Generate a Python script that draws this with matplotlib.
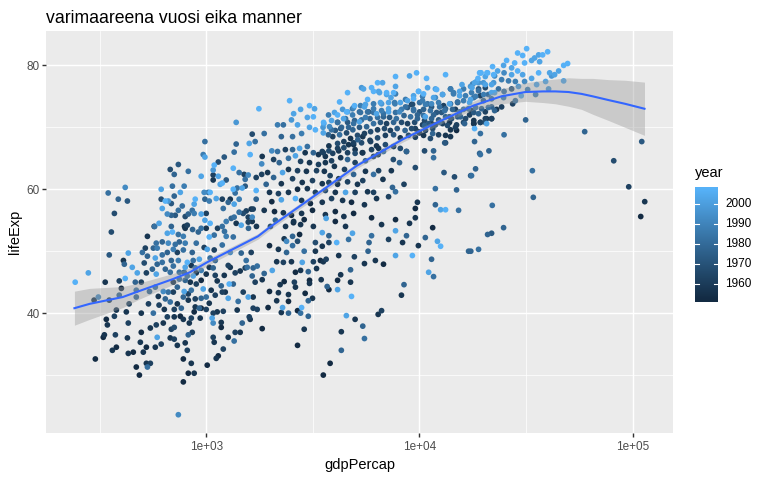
import numpy as np
import matplotlib
matplotlib.use("Agg")
import matplotlib.pyplot as plt
from matplotlib.colors import ListedColormap, Normalize
from matplotlib.ticker import FixedLocator, NullFormatter, FixedFormatter
from matplotlib.transforms import blended_transform_factory

plt.rcParams['font.family'] = ['Liberation Sans', 'DejaVu Sans']

# ---------------- data ----------------
# region A (low income, upper part)
gdp_a = [1766,1382,986,1643,1591,1696,1382,968,986,1215,
         1352,1607,740,678,708,824,947,1090,1139,1078,
         1078,1078,1139,1339,1427,1506,1574,1715,417,347,
         387,427,371,615,694,788,708,756,615,643,
         664,686,622,772,657,686,716,740,601,686,
         570,797,815,797,878,888,860,878,824,947,
         1000,978,1022,1043,986,1033,1114,1202,1189,1296,
         1339,1367,1427,1352,1268,1163,1189,1241,1397,1475,
         1523,1523,1715,1715,1625,1660,1427,1491,1540,1310,
         1352,1241,986,1043,1189,1382,1459,1574,1643,1643,
         1574,1000,947]
life_a = [73.0,70.8,67.7,68.9,67.4,67.7,67.3,65.6,65.2,65.2,
          66.0,65.6,64.0,63.2,62.4,62.9,62.1,63.9,64.4,63.1,
          62.3,61.5,62.1,63.4,62.7,62.4,62.3,61.9,60.3,59.4,
          58.4,58.1,56.1,60.0,60.5,60.5,58.9,59.5,58.4,58.1,
          58.1,57.7,56.9,57.3,56.0,55.8,55.8,56.6,54.5,54.0,
          54.0,55.6,54.2,53.7,57.6,58.4,56.6,56.1,56.0,56.0,
          56.1,59.5,59.5,59.5,58.4,58.1,58.5,56.9,58.4,58.4,
          60.0,59.4,58.4,57.6,57.9,60.8,61.0,61.5,60.2,60.2,
          60.5,61.6,59.8,58.4,56.8,56.8,56.3,56.1,56.5,55.3,
          55.5,54.8,55.0,54.5,54.0,54.5,54.2,54.7,54.8,55.5,
          55.5,53.7,53.7]
year_a = [2007,1997,1982,1967,2002,1982,1977,1987,2002,1972,
          1982,2007,1972,1967,1977,1982,2002,2007,1967,1997,
          1962,1957,2002,2007,1982,1962,1992,1962,1992,1982,
          1977,1972,1967,2002,1982,1987,1977,2002,1967,2007,
          1997,1972,2002,1982,1992,1977,1972,1982,2002,1977,
          1962,1967,1962,1957,2002,2007,1982,1987,1977,2002,
          1962,1992,1982,2007,1977,1987,2002,1982,1962,1957,
          2007,1982,1987,2002,1977,2002,2007,1972,1982,2002,
          1972,1982,2007,1977,1957,1962,1982,1967,1962,1977,
          1982,1987,2002,2007,1982,1957,2002,1962,1957,1992,
          1962,1957,1982]

# region B (low income, lower part)
gdp_b = [359,351,280,243,336,298,312,351,391,409,413,431,450,417,400,
         391,379,340,344,371,329,333,375,379,363,302,427,431,422,435,
         470,470,465,475,496,496,496,491,524,507,455,431,470,486,530,
         524,547,577,615,589,547,583,565,536,542,524,512,530,502,518,
         530,559,583,577,596,601,636,657,629,686,708,678,708,732,781,
         824,878,781,851,815,797,824,860,740,1011,1078,1090,1139,1114,1202,
         1268,1352,1475,1367,1443,1176,1176,1078,1066,1078,1126,1202,1268,1397,1591,
         1607,1660,1734,1412,1574,1660,1491,1282,1228,1339,1367,1443,1557,1643,1696,
         1215,1268,1078,1033,1043,1102,1090,1189,1241,1339,1296,1459,1625,1540,1011,
         1033,1090,918,898,978,928,860,851,888,898,947,898,968,947,1000,
         1055,1102,1033,947,888,888,824,781,788,824,851,842,797,748,701,
         732,701,664,629,643,678,732,708,764,756,781,708,851,833,878,
         937,928,1000,678,643,701,740,686,622,589,577,622,657,701,732,
         781,797,748,716,664,622,583,565,589,657,694,740,781,797,748,
         788,815,869,815,869,947,1000,1102,1126,1176,1189,1296,1523,1734,1660]
life_b = [53.1,49.4,46.5,45.0,45.0,42.1,42.6,42.1,45.2,48.5,47.9,49.7,47.4,45.6,44.0,
          42.9,40.5,39.0,38.1,39.5,36.1,36.5,36.5,34.5,34.0,32.6,36.0,38.4,40.2,41.5,
          42.6,43.7,45.0,46.5,45.0,40.0,36.9,35.3,34.5,33.7,33.7,33.5,31.3,30.0,31.3,
          31.9,31.9,34.5,35.0,36.1,37.6,38.1,40.0,41.5,43.5,46.5,48.1,49.2,49.8,50.5,
          52.4,47.1,46.3,44.2,42.7,41.3,40.6,39.4,38.4,37.4,37.7,36.0,35.8,34.8,32.6,
          30.3,30.3,28.9,31.9,34.0,35.2,36.5,36.9,23.6,31.6,36.1,35.3,33.1,32.7,34.2,
          36.1,35.5,38.4,36.9,36.9,38.5,37.7,38.4,39.2,40.0,40.2,40.3,42.4,40.5,39.4,
          39.0,40.8,40.6,41.9,42.6,42.6,43.4,44.7,43.4,44.7,46.5,46.8,47.4,46.0,45.0,
          46.1,47.7,47.3,47.4,48.9,48.5,50.2,51.0,52.4,52.3,49.8,49.7,49.8,48.5,50.3,
          52.3,52.6,53.1,51.3,50.6,48.7,49.8,47.7,47.3,46.5,45.3,44.7,43.9,42.4,42.6,
          43.7,42.9,41.6,40.8,41.0,42.3,42.1,42.6,43.5,43.1,43.7,45.0,45.3,45.5,45.0,
          44.2,43.4,43.4,43.5,42.3,41.8,41.5,40.6,40.8,39.5,39.0,39.4,39.2,38.4,40.2,
          39.2,40.8,40.6,46.6,47.1,47.6,48.5,48.5,48.2,47.9,48.9,49.4,49.8,50.3,49.8,
          50.2,51.3,51.5,51.1,51.3,51.5,51.3,50.5,50.5,52.9,53.1,52.7,52.4,47.4,46.6,
          46.6,46.0,46.0,48.2,48.5,46.9,46.3,46.1,45.2,44.4,43.4,47.4,47.3,47.6,47.3]
year_b = [1967,1972,2002,2007,1957,1957,1992,1962,1962,1957,1977,2002,2002,2007,1952,
          1977,1957,1952,1957,1962,1952,1957,1962,1952,1957,1952,1957,1962,1957,1962,
          1977,1982,1977,2002,1962,1957,1952,1957,1952,1957,1952,1957,1952,1952,1982,
          1957,1962,1957,1962,2002,1957,1962,1982,1962,1977,1962,1967,1977,1982,1962,
          1957,1977,2002,1982,1957,1962,1957,1962,1957,1962,1967,1957,1962,1957,1952,
          1952,1957,1952,1957,1962,1957,1977,1962,1992,1952,1962,1957,1952,1957,1962,
          1957,1982,1977,1962,1957,1957,1952,1992,2002,1962,1957,1962,2002,1957,1962,
          1957,1962,1962,1982,2002,1957,1962,2007,1957,1977,1962,1957,1982,1977,1962,
          1957,1962,1977,1957,1982,1977,1962,1982,1987,1982,1992,1977,1962,1982,2002,
          2007,1982,1977,1982,1962,2002,1977,1957,1982,1957,1952,1962,2002,1977,1982,
          1957,1962,1957,1952,1957,1962,1957,1977,2002,1962,1982,1957,1977,1982,1957,
          1977,1962,1982,1992,1977,1982,1957,1962,1977,1952,1957,1957,1962,1957,1952,
          1957,1977,1962,1982,1977,1982,1987,1977,1982,1977,2002,1982,1977,1987,1962,
          1982,1987,1977,1982,1992,1977,1982,1977,1987,2002,2007,1982,1987,2002,1982,
          1977,1982,2002,2007,1982,1987,1957,1962,1957,1977,1962,1957,1962,1982,1977]

# region C (middle income)
gdp_c = [9690,8980,7720,10790,13250,19140,15820,17350,18120,6360,
         6710,5960,5350,4600,6430,7010,7720,7720,7350,6560,
         5710,5520,4960,4220,2460,2770,3050,3220,2570,2510,
         2980,3180,2680,2160,2300,1870,2250,2540,2800,3050,
         3250,3560,3530,3870,4130,4360,4600,4850,5230,4500,
         4130,3870,4270,4650,4910,5230,5580,5710,6090,6290,
         6780,7160,7670,8060,8600,8790,9380,9900,10450,10330,
         10910,11640,12030,12830,13980,14440,15420,16440,17540,18920,
         18800,13830,15090,17170,18320,16090,14740,13250,12430,11390,
         10450,9380,9180,9780,10650,11640,12690,13830,15580,17170,
         17970,16270,14740,13530,12430,11390,10560,9560,10000,11530,
         13980,13250,18120,19140,10560,11640,11640,9560,13030,14590,
         17370,14920,11870,11870,12560,13250,15250,9780,9560,9560,
         11530,8980,7720,8460,7470,7720,8690,6780,6400,6290,
         5900,5420,5140,4910,4650,4420,4130,3760,3540,3360,
         3180,2980,2740,2540,2350,2160,2030,1830,1820,2070,
         2200,2430,2620,2910,2770,3050,3360,3620,3870,4270,
         4600,4990,5580,6090,5390,4990,3990,4450,4910,5580,
         6090,5120,4600,4180,3810,3580,3290,2950,2680,2430,
         2280,2070,1940,1820,1910,2250,2540,2820,3150,3500,
         3760,4130,4500,4030,3620,3250,2980,2680,2430,2180,
         1980,2030,2250,2620,2800,3080,3500,3870,4360,4800,
         5520,4990,5710,6090,6290,7160,5420,6740,6430,7380,
         7540,8060,4910,4420,4030,3620,3150,2800,2510,2300,
         2090,1870,2110,2570,2880,3180,3650,4030,4500,5960,
         6640]
life_c = [78.8,78.3,78.2,77.9,78.5,78.8,76.9,76.6,77.2,77.2,
          77.2,76.4,76.4,75.6,75.8,75.6,76.6,75.4,74.8,74.0,
          74.5,73.3,73.5,74.1,74.3,72.9,73.5,73.0,72.2,71.2,
          71.6,71.7,70.4,70.4,70.4,69.0,68.5,68.5,69.0,70.0,
          69.6,70.6,70.0,71.1,72.0,72.9,72.5,73.0,72.5,71.4,
          70.8,69.6,69.8,70.0,70.6,70.9,71.6,72.5,73.0,72.2,
          72.2,73.0,73.8,72.5,73.3,74.3,74.6,75.8,75.4,74.3,
          73.8,74.8,76.1,75.3,76.2,75.4,75.8,75.1,75.6,75.9,
          77.9,73.8,74.1,74.0,73.2,72.9,72.9,73.0,73.3,73.3,
          72.9,72.9,73.7,72.0,71.7,72.0,72.4,71.7,71.7,72.0,
          70.6,70.6,70.0,70.3,70.8,70.6,70.3,69.8,69.1,69.0,
          68.5,67.5,67.7,65.8,66.2,66.2,65.1,63.5,62.7,62.0,
          62.2,59.9,60.1,57.5,56.7,56.7,56.6,57.9,56.9,55.4,
          53.8,54.5,55.1,60.8,60.3,59.6,66.1,66.1,65.6,67.0,
          67.7,68.5,68.0,67.5,67.2,66.7,66.6,66.2,65.9,65.6,
          65.9,66.9,66.6,66.4,66.4,66.1,66.2,65.3,64.1,64.8,
          64.3,65.0,65.4,65.9,64.5,64.3,64.0,64.3,64.6,65.1,
          64.8,64.3,64.6,65.3,65.9,66.4,63.7,63.2,62.4,62.9,
          62.4,60.8,61.2,61.7,62.2,62.9,63.0,62.9,63.0,63.2,
          62.7,61.9,62.7,62.4,60.8,60.9,61.7,61.1,61.4,60.9,
          61.1,60.8,59.5,59.5,59.8,59.5,60.1,60.0,59.5,59.3,
          59.5,58.0,58.3,58.5,58.2,57.7,57.9,58.5,58.2,57.9,
          57.5,59.5,59.6,59.5,58.5,58.8,61.4,61.6,63.0,63.0,
          64.8,64.3,56.1,55.6,56.4,55.9,56.6,56.1,55.8,56.2,
          56.4,56.6,55.0,54.8,55.1,54.0,55.3,54.8,54.0,55.4,
          54.3]
year_c = [2007,2002,2007,2007,2007,2007,2002,1997,2002,2007,
          2002,2007,1997,2007,2002,2007,2002,1987,2002,2002,
          2007,2002,2007,2007,2007,2002,2007,2002,2002,1997,
          2002,2007,2002,1987,1982,1982,1977,1982,1987,2002,
          2007,2002,1997,2002,2007,1997,2002,1987,1982,1982,
          1977,1982,1972,1977,1982,2002,1987,1982,1987,2002,
          1982,2002,1987,1992,1982,2002,2007,2002,2007,1987,
          1982,2002,2007,2002,1987,1987,2002,1987,1987,1982,
          2007,2002,1982,2002,1982,1982,1962,1977,1982,1972,
          1977,1982,1962,1977,2002,1977,1972,1967,1977,1962,
          1957,1977,1962,1967,1977,1957,1977,1962,1957,1977,
          1957,1967,1977,1977,1967,1977,1982,1967,1972,1967,
          1972,1977,1982,1977,2002,2007,1982,1957,1952,1957,
          1952,1957,1952,1962,1977,1982,1977,1982,1962,1957,
          1962,1957,1977,1962,1957,1967,1962,1967,1962,1957,
          1977,1982,2002,1977,1962,1982,1992,1957,1992,1962,
          1977,1982,2002,1957,1962,1957,1962,1957,1962,1957,
          1977,1962,1977,1962,1957,1957,1957,1962,1977,1957,
          1982,1957,1962,1957,1962,1957,1962,1957,1962,1957,
          2002,1977,1957,1962,1977,1957,1962,1957,1962,1957,
          1962,1957,2002,1957,1967,1962,1957,1952,1957,1962,
          1957,1952,2002,2007,1957,1952,1957,1962,1957,1952,
          1957,1962,1957,1962,1957,1962,1962,1957,1962,1957,
          1967,1977,1952,1957,1952,1957,1952,1957,1952,1957,
          1952,1957,1977,1957,1952,1957,2002,1952,1957,1952,
          1957]

# region D (middle income, low life expectancy)
gdp_d = [1980,2320,2540,2740,2380,2680,2540,2180,2380,2880,
         3250,3500,3760,3500,3760,4090,4650,4850,5960,5800,
         5740,4180,4950,6210,6780,5520,4750,4270,4130,4750,
         4130,4800,3760,3690,3460,3540,3650,3430,3290,3180,
         3250,3010,2770,2820,2620,2510,2300,2140,2040,1870,
         1830,1980,2180,2320,2220,2590,2620,3050,3050,2910,
         3150,3010,2430,2430,2140,1950,2280,2250,2430,2680,
         2800,2770,3010,1830,2880,2680,4300,4300,3810,3540,
         4540,4990,5420,5520,6400,6640,8230,8460,7720,9260,
         8330,7160,8690,7720,9880,10650,12140,12560,11390,11040,
         11640,16990,18920,20860,21780,17400]
life_d = [50.9,52.0,52.4,52.7,51.6,51.6,50.9,50.3,49.8,50.0,
          51.4,50.8,51.4,53.0,52.5,51.4,51.9,52.9,52.5,51.4,
          50.0,49.3,49.1,48.5,47.9,48.0,47.0,46.2,45.3,45.0,
          43.8,42.7,43.8,44.3,45.4,48.3,48.7,48.5,47.2,48.3,
          50.0,46.7,46.9,48.2,46.6,48.3,48.2,48.3,46.9,46.4,
          45.4,43.5,43.3,45.1,44.6,45.0,44.2,45.3,44.8,43.2,
          42.4,42.0,43.0,41.9,42.0,40.9,40.9,40.1,40.0,40.4,
          40.9,40.0,39.5,37.5,37.4,34.8,37.0,34.0,31.9,30.0,
          39.6,39.0,37.9,35.9,39.8,40.4,42.9,44.6,49.3,49.3,
          51.4,51.9,52.5,53.3,50.9,52.2,51.6,50.8,48.7,46.6,
          45.9,50.0,50.3,52.7,52.9,50.0]
year_d = [1952,1957,1977,1952,1992,1967,1982,1957,1977,1982,
          1967,1957,1962,2002,1977,2007,1982,2002,1982,1977,
          1977,1957,1962,1957,1952,1957,1977,1957,1952,1957,
          2002,2007,1952,1977,1957,1957,1962,1952,1957,1962,
          1957,1977,1957,2002,1952,1957,1962,1957,2002,1977,
          1957,1952,1957,1952,1957,1962,1957,1952,1957,1952,
          1957,1977,1957,1952,1957,1952,2002,1957,1977,1952,
          2007,1982,1977,1952,1957,1952,1957,1977,1952,1952,
          2002,1957,1977,1982,1957,1962,1957,1977,2002,2007,
          1957,1962,1977,2002,1957,1977,2002,2007,1977,2002,
          1982,1977,1982,1977,1972,1977]

# region E (high income)
gdp_e = [31800,28850,30450,39890,37790,36190,34650,33550,36590,49500,
         47420,44920,43010,40760,41650,36190,47420,39030,40300,35420,
         35040,32150,31100,33550,30450,28850,31100,27940,25610,24790,
         27040,22010,23240,20860,19300,20350,22500,24920,27040,24270,
         26150,28150,29110,27040,24920,23460,21780,19950,18510,17750,
         18920,20350,22500,21020,19300,17970,19950,21780,24790,28150,
         27350,29990,24270,22990,21780,20350,18920,17490,21780,20350,
         19300,17970,20640,18120,19300,24920,31460,21160,19300,18320,
         17540,33830,34170,21940,24790,59520,110200,81440,95760,113800,
         109000]
life_e = [82.7,82.0,81.6,82.2,81.7,81.7,81.2,80.8,80.6,80.3,
          80.0,79.1,78.5,78.8,78.3,78.8,77.5,77.4,76.2,76.9,
          75.3,76.1,77.4,77.9,78.5,79.1,80.4,80.4,80.8,80.0,
          79.6,79.8,79.1,78.8,78.8,78.2,78.3,78.8,78.5,77.7,
          77.5,77.4,76.6,76.2,75.8,76.2,76.9,77.2,77.4,77.0,
          76.2,76.4,75.6,75.3,75.1,74.8,74.3,74.6,74.8,74.3,
          73.8,75.1,73.3,72.9,73.3,72.5,72.2,72.7,71.4,71.4,
          70.8,70.6,70.6,69.8,69.0,68.8,71.2,66.2,65.6,63.3,
          62.2,63.0,58.7,57.4,53.8,69.3,67.7,64.6,60.4,58.0,
          55.6]
year_e = [2007,2007,2007,2007,2007,2002,2002,2002,2002,2007,
          2007,2002,2002,2002,1997,2007,2002,2002,1997,2002,
          1987,1987,1992,2002,2002,2007,2007,2007,2007,2002,
          2002,2007,2002,2007,2002,2002,1992,1992,2002,1987,
          1987,1987,1997,1972,1982,1982,2002,1997,2002,1987,
          1972,1967,2002,1982,1962,1982,1977,1982,1987,1982,
          1962,2002,1962,1957,1977,1962,1977,1957,1957,1962,
          1957,1952,2002,2007,1982,1982,1977,1977,1982,1977,
          1982,1982,1977,1982,1977,1977,1972,1967,1962,1957,
          1952]

# region F (dense band around the fitted curve, middle/upper income)
gdp_f = [5465,6090,6495,7010,7560,7640,7160,6640,6090,5580,
         5290,4910,4550,3995,3745,3550,3785,4130,4405,4855,
         5290,5770,6090,6640,7160,7720,8240,8790,9280,10010,
         10670,11390,12290,12970,13980,15090,16090,17350,18320,19980,
         21780,14440,15420,16090,17620,18920,20350,22260,20720,19430,
         22260,13980,12830,11870,10910,9900,9380,10330,11870,8600,
         8130,9380,10010,10450,11250,12030,13130,14280,15420,16960,
         17970,19550,21020,22500,17970,19300,20640,21780,20350,
         16440,15090,14130,13250,12290,11390,10560,9780,9080,8460,
         7790,7240,6780,6360,5860,5350,4960,4600,4310,4030,
         3740,3540,3920,4220,4550,4870,5230,5650,6090,6560,
         7010,7560,8240,8790,9490,10330,11040,11870,12830,13830,
         14920,16090,13980,14920,13250,11530,10670,9880,9180,8560,
         7860,7300,6850,6360,5900,5520,5120,4750,4420,4130,
         3760,3500,4910,5350,5860,6360,6920,7560,8130,8880,
         9560,10450,11250,12290,8130,8690,7560,6920,6430,5960,
         5420,4990,4600,4180,3920,3620,13130,
         573,791,863,1130,1218,1578,1720,2000,2355,2565,2770]
life_f = [76.2,75.8,75.6,75.3,75.6,74.0,74.0,73.8,73.8,73.7,
          73.5,73.2,72.5,72.4,72.0,70.8,70.1,70.8,71.4,72.0,
          72.4,72.5,72.4,72.7,72.5,72.4,72.9,73.2,73.7,74.0,
          73.7,73.8,74.0,73.5,73.8,74.0,74.3,74.5,75.0,75.3,
          75.6,75.6,75.1,76.2,76.4,77.2,76.9,77.2,78.8,78.8,
          78.5,76.2,75.3,76.2,76.4,75.8,75.1,75.0,74.8,74.5,
          74.0,72.7,72.5,71.9,72.7,72.4,72.7,72.9,72.5,73.0,
          72.4,73.0,73.2,72.7,71.1,70.8,71.4,71.4,70.8,
          71.4,71.7,71.4,71.7,71.2,71.4,71.1,71.4,71.7,71.9,
          71.4,71.6,71.7,71.6,71.4,71.2,71.1,70.8,70.0,69.5,
          68.8,69.1,68.5,68.8,69.1,69.6,70.0,70.1,70.6,70.8,
          70.6,70.8,70.8,70.6,70.8,70.4,70.6,70.4,70.6,70.8,
          70.4,70.8,69.6,69.5,68.7,69.8,69.5,69.3,69.8,69.5,
          69.8,69.5,69.8,69.6,69.3,69.0,68.7,68.2,67.7,67.4,
          67.0,66.1,67.2,67.5,67.9,68.3,68.7,68.8,68.3,68.7,
          68.4,68.7,68.2,68.8,66.6,66.1,66.9,67.2,66.6,66.4,
          65.9,65.8,65.9,66.2,65.8,65.3,67.5,
          54.0,54.0,53.5,53.7,53.2,53.7,54.0,54.0,54.0,54.6,54.3]
year_f = [2002,2007,2002,2002,2007,1987,2002,1997,1987,2002,
          1987,1992,2007,2002,1987,2007,1992,1982,2002,1987,
          1982,1972,1982,1987,2002,1982,1987,1972,1967,1982,
          1987,1992,1987,1962,1982,1972,1987,2002,1987,1987,
          2002,1987,2002,1987,2002,1997,2002,1997,2007,2007,
          2007,1982,1987,2002,2002,2007,2002,1987,1992,1987,
          2002,1982,1972,1982,1982,1972,1982,1977,1982,1982,
          1972,1977,1982,1977,1957,1962,1957,1962,1967,
          1967,1972,1967,1977,1972,1977,1967,1977,1982,1977,
          1982,1972,1977,1982,1977,1982,1977,1972,1977,1972,
          1977,2002,1962,1982,1967,1977,1972,1977,1982,1972,
          1962,1977,1967,1962,1967,1962,1972,1967,1962,1957,
          1962,1967,1957,1952,1957,1967,1962,1957,1967,1977,
          1972,1962,1967,1962,1967,1962,1967,1957,1962,1967,
          1957,1962,1957,1967,1962,1967,1962,1972,1957,1967,
          1962,1957,1967,1962,1967,1957,1962,1967,1957,1962,
          1957,1967,1962,1957,1962,1957,1972,
          1982,1957,1977,1962,1982,1977,1957,1967,1957,1952,1957]

# smoothing line and its confidence band
smooth_gdp = [241,284,406,488,698,838,1008,1400,1748,1991,2754,3800,5081,
              8386,12500,17860,24180,31340,38000,43350,50000,57500,65000,
              77000,92000,113500]
smooth_fit = [40.8,41.5,42.6,43.6,45.5,46.6,48.2,50.7,52.4,53.9,57.3,60.7,63.8,
              68.1,71.0,73.5,75.0,75.7,75.8,75.8,75.7,75.4,75.0,74.4,73.8,73.0]
smooth_lo = [38.05,39.0,40.9,42.3,44.6,45.9,47.65,50.2,51.95,53.45,56.85,60.25,
             63.35,67.65,70.5,72.8,73.8,74.2,74.0,73.8,73.4,72.9,72.1,71.1,70.0,68.7]
smooth_hi = [43.55,44.0,44.3,44.9,46.4,47.3,48.75,51.2,52.85,54.35,57.75,61.15,
             64.25,68.55,71.5,74.2,76.2,77.2,77.6,77.8,78.0,77.9,77.9,77.7,77.6,77.3]

x_ticks = [1e3, 1e4, 1e5]
x_labels = ['1e+03', '1e+04', '1e+05']
y_ticks = [40, 60, 80]
legend_years = [1960, 1970, 1980, 1990, 2000]

title = 'varimaareena vuosi eika manner'

# ---------------- colour scale (ggplot default gradient, Lab space) ----------------
def _srgb_to_lab(rgb):
    c = np.asarray(rgb, float)
    lin = np.where(c <= 0.04045, c / 12.92, ((c + 0.055) / 1.055) ** 2.4)
    M = np.array([[0.4124564, 0.3575761, 0.1804375],
                  [0.2126729, 0.7151522, 0.0721750],
                  [0.0193339, 0.1191920, 0.9503041]])
    xyz = M @ lin / np.array([0.95047, 1.0, 1.08883])
    d = 6 / 29
    f = np.where(xyz > d ** 3, np.cbrt(xyz), xyz / (3 * d * d) + 4 / 29)
    return np.array([116 * f[1] - 16, 500 * (f[0] - f[1]), 200 * (f[1] - f[2])])

def _lab_to_srgb(lab):
    L, a, b = lab
    fy = (L + 16) / 116
    fx = fy + a / 500
    fz = fy - b / 200
    d = 6 / 29
    f = np.array([fx, fy, fz])
    xyz = np.where(f > d, f ** 3, 3 * d * d * (f - 4 / 29)) * np.array([0.95047, 1.0, 1.08883])
    Minv = np.array([[3.2404542, -1.5371385, -0.4985314],
                     [-0.9692660, 1.8760108, 0.0415560],
                     [0.0556434, -0.2040259, 1.0572252]])
    lin = np.clip(Minv @ xyz, 0, 1)
    c = np.where(lin <= 0.0031308, 12.92 * lin, 1.055 * lin ** (1 / 2.4) - 0.055)
    return np.clip(c, 0, 1)

def _hex(h):
    return np.array([int(h[i:i + 2], 16) / 255 for i in (1, 3, 5)])

lab_lo = _srgb_to_lab(_hex('#132B43'))
lab_hi = _srgb_to_lab(_hex('#56B1F7'))
cmap = ListedColormap([_lab_to_srgb(lab_lo + (lab_hi - lab_lo) * t)
                       for t in np.linspace(0, 1, 256)])

# ---------------- assemble ----------------
def _stack(*parts):
    g, l, y = [], [], []
    for pg, pl, py in parts:
        m = min(len(pg), len(pl), len(py))
        g += pg[:m]; l += pl[:m]; y += py[:m]
    return np.array(g, float), np.array(l, float), np.array(y, float)

gdp, life, year = _stack((gdp_a, life_a, year_a), (gdp_b, life_b, year_b),
                         (gdp_c, life_c, year_c), (gdp_d, life_d, year_d),
                         (gdp_e, life_e, year_e), (gdp_f, life_f, year_f))
order = np.argsort(year, kind='stable')
norm = Normalize(1952, 2007)

fig = plt.figure(figsize=(7.68, 4.8), dpi=100)
fig.patch.set_facecolor('white')
ax = fig.add_axes([46 / 768, 47 / 480, 627 / 768, 402 / 480])
ax.set_facecolor('#EBEBEB')
ax.set_xscale('log')
ax.set_xlim(10 ** 2.2487, 10 ** 5.1887)
ax.set_ylim(20.649, 85.553)
for s in ax.spines.values():
    s.set_visible(False)

ax.xaxis.set_major_locator(FixedLocator(x_ticks))
ax.xaxis.set_major_formatter(FixedFormatter(x_labels))
ax.xaxis.set_minor_locator(FixedLocator([10 ** 2.5, 10 ** 3.5, 10 ** 4.5]))
ax.xaxis.set_minor_formatter(NullFormatter())
ax.yaxis.set_major_locator(FixedLocator(y_ticks))
ax.yaxis.set_minor_locator(FixedLocator([30, 50, 70]))
ax.yaxis.set_minor_formatter(NullFormatter())
ax.tick_params(which='major', length=2.64, width=1.02, color='#333333',
               labelcolor='#4D4D4D', labelsize=8.45)
ax.tick_params(axis='x', which='major', pad=3.0)
ax.tick_params(axis='y', which='major', pad=1.6)
ax.tick_params(which='minor', length=0)
ax.grid(which='major', color='white', linewidth=1.02)
ax.grid(which='minor', color='white', linewidth=0.51)
ax.set_axisbelow(True)

ax.scatter(gdp[order], life[order], c=year[order], cmap=cmap, norm=norm,
           s=17, linewidths=0, zorder=3)
ax.fill_between(smooth_gdp, smooth_lo, smooth_hi, color='#999999', alpha=0.4,
                linewidth=0, zorder=4)
ax.plot(smooth_gdp, smooth_fit, color='#3366FF', linewidth=1.5, zorder=5)

# titles
fig.text(46 / 768, 1 - 22.7 / 480, title, ha='left', va='baseline', fontsize=12.7,
         color='black')
fig.text(359.5 / 768, 1 - 465 / 480, 'gdpPercap', ha='center', va='center',
         fontsize=10.56, color='black')
fig.text(15 / 768, 1 - 232 / 480, 'lifeExp', ha='center', va='center',
         rotation=90, fontsize=10.56, color='black')

# colourbar legend
y0, y1 = 1950.8, 2008.3
cax = fig.add_axes([695 / 768, (480 - 302) / 480, 23 / 768, 115 / 480])
yy = np.linspace(y0, y1, 400)
cax.imshow(np.clip(yy, 1952, 2007)[:, None], aspect='auto', cmap=cmap, norm=norm,
           origin='lower', extent=[0, 1, y0, y1], interpolation='bilinear')
cax.set_xlim(0, 1)
cax.set_ylim(y0, y1)
cax.axis('off')
tr = blended_transform_factory(cax.transAxes, cax.transData)
for yv in legend_years:
    cax.plot([0, 0.19], [yv, yv], color='white', linewidth=0.8)
    cax.plot([0.81, 1], [yv, yv], color='white', linewidth=0.8)
    cax.text(30 / 23, yv, str(yv), transform=tr, ha='left', va='center',
             fontsize=8.45, color='black')
fig.text(695 / 768, 1 - 177 / 480, 'year', ha='left', va='baseline',
         fontsize=10.56, color='black')

fig.savefig('out.png', dpi=100)
